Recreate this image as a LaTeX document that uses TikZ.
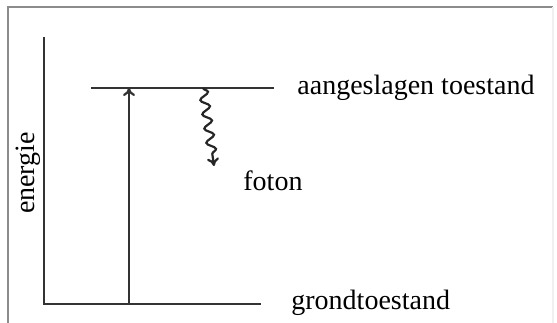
\documentclass[tikz,border=0pt]{standalone}
\usepackage{fontspec}
\setmainfont{Liberation Serif}
\usepackage{tikz}
\usetikzlibrary{arrows.meta,decorations.pathmorphing}

\tikzset{
  level/.style={line width=1.1pt, black!80},
  label/.style={font=\fontsize{14}{16}\selectfont, inner sep=0pt}
}

\begin{document}
\begin{tikzpicture}[x=0.5pt, y=-0.5pt, >={To[length=4pt,width=6pt]}]
    \useasboundingbox (0,0) rectangle (557,322);

    % Frame
    \draw[line width=1pt, black!45] (8,330) -- (8,7) -- (553,7);
    \draw[line width=0.6pt, black!6] (553,7) -- (553,330);

    % Energy axis and levels
    \coordinate (top) at (44,37);
    \coordinate (origin) at (44,304);
    \coordinate (groundend) at (261,304);
    \coordinate (excstart) at (91,88);
    \coordinate (excend) at (274,88);
    \coordinate (absbot) at (129,304);
    \coordinate (abstop) at (129,88);
    \coordinate (emitstart) at (203,88);
    \coordinate (emitend) at (214,166);

    \draw[level] (top) -- (origin) -- (groundend);
    \draw[level] (excstart) -- (excend);

    % Absorption arrow
    \draw[->, line width=1.1pt, black!80] (absbot) -- (abstop);

    % Emitted photon
    \draw[->, line width=1.1pt, black!85,
          decorate, decoration={snake, segment length=7.2pt, amplitude=2.2pt, post length=3pt}]
          (emitstart) -- (emitend);

    % Labels
    \node[label, anchor=base west] (excited) at (297,94) {aangeslagen toestand};
    \node[label, anchor=base west] (ground) at (291,309) {grondtoestand};
    \node[label, anchor=base west] (photon) at (243,190) {foton};
    \node[label, anchor=base, rotate=90] (energy) at (34.5,173) {energie};
\end{tikzpicture}
\end{document}
